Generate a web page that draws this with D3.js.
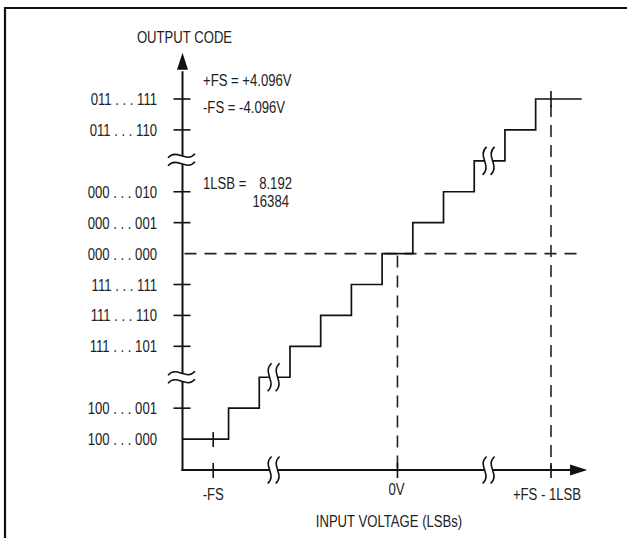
<!DOCTYPE html>
<html>
<head>
<meta charset="utf-8">
<script src="https://cdn.jsdelivr.net/npm/d3@7/dist/d3.min.js"></script>
<style>
html,body{margin:0;padding:0;background:#fff;}
svg text{font-family:"Liberation Sans",Arial,sans-serif;font-size:16px;fill:#222;}
</style>
</head>
<body>
<svg id="chart" width="631" height="538"></svg>
<script>
// Output code levels (index 0..11); null marks an axis break level
const codeLabels = ["100 . . . 000","100 . . . 001",null,"111 . . . 101","111 . . . 110","111 . . . 111",
                    "000 . . . 000","000 . . . 001","000 . . . 010",null,"011 . . . 110","011 . . . 111"];
const codeTicks = [1,3,4,5,7,8,10,11];          // levels that carry a tick mark on the y axis
const breakLevels = [2, 9];                       // y-axis break positions
// Transfer function: code level k begins at input transitions[k-1] (LSB units from -FS)
const levels = [0,1,2,3,4,5,6,7,8,9,10,11];
const transitions = [0.5,1.5,2.5,3.5,4.5,5.5,6.5,7.5,8.5,9.5,10.5];
const stairStart = -1, stairEnd = 12;
const inputTicks = [{v:0,label:"-FS"},{v:6,label:"0V"},{v:11,label:"+FS - 1LSB"}];
const inputBreaks = [2, 9];                       // x-axis break positions
const stairBreaks = [{x:2,y:2},{x:9,y:9}];        // breaks drawn on the staircase
const zeroCode = 6, zeroInput = 6, fsTop = 11;

const svg = d3.select("#chart");
const x = d3.scaleLinear().domain([-1, 11]).range([182.5, 551]);
const y = d3.scaleLinear().domain([-1, 11]).range([470, 99]);
const NARROW = 0.82;
function addText(tx, ty, str, anchor){
  return svg.append("text")
    .attr("transform",`translate(${tx},${ty}) scale(${NARROW},1)`)
    .attr("text-anchor",anchor||"start").text(str);
}

// frame (top and left rules)
svg.append("line").attr("x1",5).attr("y1",8).attr("x2",627).attr("y2",8).attr("stroke","#111").attr("stroke-width",2.2);
svg.append("line").attr("x1",5).attr("y1",7).attr("x2",5).attr("y2",538).attr("stroke","#111").attr("stroke-width",2.2);

const dash = "12,8";
// dashed reference lines
svg.append("line").attr("x1",x(-1)+2).attr("x2",x(12)).attr("y1",y(zeroCode)).attr("y2",y(zeroCode))
  .attr("stroke","#222").attr("stroke-width",1.6).attr("stroke-dasharray",dash);
svg.append("line").attr("x1",x(zeroInput)).attr("x2",x(zeroInput)).attr("y1",y(zeroCode)+2).attr("y2",y(-1))
  .attr("stroke","#222").attr("stroke-width",1.6).attr("stroke-dasharray",dash);
svg.append("line").attr("x1",x(fsTop)).attr("x2",x(fsTop)).attr("y1",y(fsTop)+6).attr("y2",y(-1))
  .attr("stroke","#222").attr("stroke-width",1.6).attr("stroke-dasharray",dash);

// staircase
const pts = [[stairStart, levels[0]]];
transitions.forEach((t,i)=>{ pts.push([t, levels[i]]); pts.push([t, levels[i+1]]); });
pts.push([stairEnd, levels[levels.length-1]]);
const line = d3.line().x(d=>x(d[0])).y(d=>y(d[1]));
svg.append("path").attr("d",line(pts)).attr("fill","none").attr("stroke","#111").attr("stroke-width",1.7);

// axes
svg.append("line").attr("x1",x(-1)).attr("x2",x(-1)).attr("y1",y(-1)+1).attr("y2",y(11.9))
  .attr("stroke","#111").attr("stroke-width",2);
svg.append("path").attr("d",`M${x(-1)},${y(12.5)} L${x(-1)-5.5},${y(11.95)} L${x(-1)+5.5},${y(11.95)} Z`).attr("fill","#111");
svg.append("line").attr("x1",x(-1)-1).attr("x2",x(11.7)).attr("y1",y(-1)).attr("y2",y(-1))
  .attr("stroke","#111").attr("stroke-width",2);
svg.append("path").attr("d",`M${x(12.18)},${y(-1)} L${x(11.62)},${y(-1)-5.5} L${x(11.62)},${y(-1)+5.5} Z`).attr("fill","#111");

// y ticks + labels
codeTicks.forEach(k=>{
  svg.append("line").attr("x1",x(-1)-9).attr("x2",x(-1)+8).attr("y1",y(k)).attr("y2",y(k)).attr("stroke","#111").attr("stroke-width",1.6);
});
codeLabels.forEach((lab,k)=>{
  if(!lab) return;
  addText(157, y(k)+6, lab, "end");
});

// x ticks + labels
inputTicks.forEach(t=>{
  svg.append("line").attr("x1",x(t.v)).attr("x2",x(t.v)).attr("y1",y(-1)-7).attr("y2",y(-1)+8).attr("stroke","#111").attr("stroke-width",1.6);
});
svg.append("line").attr("x1",x(0)).attr("x2",x(0)).attr("y1",y(0)-7).attr("y2",y(0)+8).attr("stroke","#111").attr("stroke-width",1.6);
svg.append("line").attr("x1",x(fsTop)).attr("x2",x(fsTop)).attr("y1",y(fsTop)-8).attr("y2",y(fsTop)+8).attr("stroke","#111").attr("stroke-width",1.6);
const labDx = {"-FS":0,"0V":-1,"+FS - 1LSB":-4};
const labY = {"-FS":500,"0V":495,"+FS - 1LSB":500};
inputTicks.forEach(t=>{
  addText(x(t.v)+labDx[t.label], labY[t.label], t.label, "middle");
});

// break symbols
function vBreak(cx, cy, h){
  svg.append("rect").attr("x",cx-4).attr("y",cy-3).attr("width",8).attr("height",6).attr("fill","#fff");
  [-4,4].forEach(o=>{
    const X = cx+o;
    svg.append("path").attr("d",`M${X+2},${cy-h} C${X-8},${cy-h*0.35} ${X+8},${cy+h*0.35} ${X-2},${cy+h}`)
      .attr("fill","none").attr("stroke","#111").attr("stroke-width",1.6);
  });
}
function hBreak(cx, cy, w){
  svg.append("rect").attr("x",cx-3).attr("y",cy-4).attr("width",6).attr("height",8).attr("fill","#fff");
  [-4,4].forEach(o=>{
    const Y = cy+o;
    svg.append("path").attr("d",`M${cx-w},${Y+2} C${cx-w*0.35},${Y-8} ${cx+w*0.35},${Y+8} ${cx+w},${Y-2}`)
      .attr("fill","none").attr("stroke","#111").attr("stroke-width",1.6);
  });
}
breakLevels.forEach(k=>hBreak(x(-1)-1, y(k)+(k===9?-1:0), 13.5));
inputBreaks.forEach(v=>vBreak(x(v)-1, y(-1), 13.5));
stairBreaks.forEach(b=>vBreak(x(b.x)-1, y(b.y), 14));

// annotations
addText(x(-1)+2, 43, "OUTPUT CODE", "middle");
addText(203, 86, "+FS = +4.096V");
addText(203, 113, "-FS = -4.096V");
addText(203, 189, "1LSB =");
addText(292, 189, "8.192", "end");
addText(289, 207, "16384", "end");
addText(389, 527, "INPUT VOLTAGE (LSBs)", "middle");
</script>
</body>
</html>
